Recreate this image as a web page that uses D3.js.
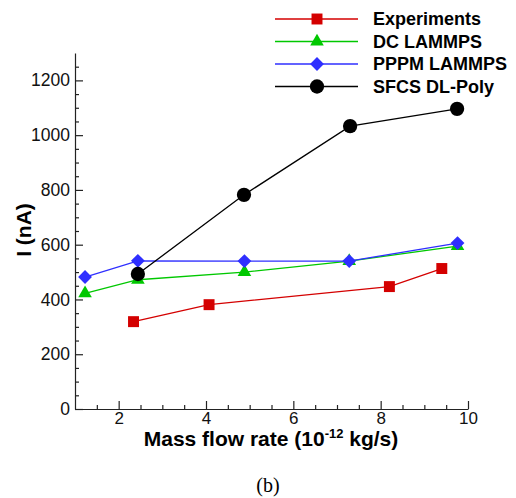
<!DOCTYPE html>
<html>
<head>
<meta charset="utf-8">
<script src="https://cdn.jsdelivr.net/npm/d3@7"></script>
<style>
  body { margin: 0; background: #fff; }
  text { font-family: "Liberation Sans", Arial, sans-serif; }
</style>
</head>
<body>
<svg></svg>
<script>
const size = {w: 516, h: 498};
const margin = {t: 53, r: 48, b: 89, l: 75};

// data
const expX = [2.34, 4.07, 8.2, 9.4];
const expY = [319, 381, 447, 513];
const dcX = [1.23, 2.44, 4.88, 7.28, 9.76];
const dcY = [422, 472, 500, 540, 595];
const ppX = [1.23, 2.44, 4.88, 7.28, 9.76];
const ppY = [482, 541, 540, 540, 606];
const sfX = [2.44, 4.87, 7.3, 9.75];
const sfY = [493, 782, 1033, 1096];

const seriesNames = ['Experiments', 'DC LAMMPS', 'PPPM LAMMPS', 'SFCS DL-Poly'];
const xTicks = [2, 4, 6, 8, 10];
const yTicks = [0, 200, 400, 600, 800, 1000, 1200];

const series = [
    {name: seriesNames[0], xs: expX, ys: expY, color: '#d40000', sym: d3.symbolSquare, area: 120, rot: 0},
    {name: seriesNames[1], xs: dcX, ys: dcY, color: '#00c800', sym: d3.symbolTriangle, area: 80, rot: 0},
    {name: seriesNames[2], xs: ppX, ys: ppY, color: '#2f2fff', sym: d3.symbolSquare, area: 95, rot: 45},
    {name: seriesNames[3], xs: sfX, ys: sfY, color: '#000000', sym: d3.symbolCircle, area: 160, rot: 0}
];

const svg = d3.select('svg')
    .attr('width', size.w)
    .attr('height', size.h);

const x = d3.scaleLinear().domain([1, 10]).range([margin.l, size.w - margin.r]);
const y = d3.scaleLinear().domain([0, 1300]).range([size.h - margin.b, margin.t]);

const axisG = svg.append('g');

// minor ticks
axisG.append('g')
    .attr('transform', `translate(0,${y(0)})`)
    .call(d3.axisBottom(x).tickValues(d3.range(1.5, 10, 0.5).filter(v => v % 2 !== 0))
        .tickSize(-4).tickFormat(''))
    .call(g => g.select('.domain').remove());
axisG.append('g')
    .attr('transform', `translate(${x(1)},0)`)
    .call(d3.axisLeft(y).tickValues(d3.range(50, 1300, 50).filter(v => v % 200 !== 0))
        .tickSize(-4).tickFormat(''))
    .call(g => g.select('.domain').remove());

// major ticks
const xAxis = axisG.append('g')
    .attr('transform', `translate(0,${y(0)})`)
    .call(d3.axisBottom(x).tickValues(xTicks).tickSize(-8).tickSizeOuter(0).tickFormat(d3.format('d')));
const yAxis = axisG.append('g')
    .attr('transform', `translate(${x(1)},0)`)
    .call(d3.axisLeft(y).tickValues(yTicks).tickSize(-8).tickSizeOuter(0).tickPadding(5)
        .tickFormat(d3.format('d')));

axisG.selectAll('line, path').attr('stroke', '#222').attr('stroke-width', 1.2);
xAxis.selectAll('text').attr('font-size', 17).attr('fill', '#111').attr('y', 3).attr('dy', '0.72em');
yAxis.selectAll('text').attr('font-size', 17.5).attr('fill', '#111');

// axis titles
const xt = svg.append('text')
    .attr('x', 271).attr('y', 446)
    .attr('text-anchor', 'middle')
    .attr('font-size', 21).attr('font-weight', 'bold');
xt.append('tspan').text('Mass flow rate (10');
xt.append('tspan').text('-12').attr('font-size', 13).attr('dy', -8);
xt.append('tspan').text(' kg/s)').attr('dy', 8);

svg.append('text')
    .attr('transform', 'translate(31,230) rotate(-90)')
    .attr('text-anchor', 'middle')
    .attr('font-size', 21).attr('font-weight', 'bold')
    .text('I (nA)');

svg.append('text')
    .attr('x', 268).attr('y', 492)
    .attr('text-anchor', 'middle')
    .style('font-family', '"Liberation Serif", serif')
    .attr('font-size', 20)
    .text('(b)');

// series
const line = d3.line().x(d => x(d[0])).y(d => y(d[1]));
series.forEach(s => {
    const pts = s.xs.map((v, i) => [v, s.ys[i]]);
    const g = svg.append('g');
    g.append('path')
        .datum(pts)
        .attr('d', line)
        .attr('fill', 'none')
        .attr('stroke', s.color)
        .attr('stroke-width', 1.3);
    g.selectAll('path.mark')
        .data(pts)
        .enter()
        .append('path')
        .classed('mark', true)
        .attr('transform', d => `translate(${x(d[0])},${y(d[1])}) rotate(${s.rot})`)
        .attr('d', d3.symbol(s.sym, s.area))
        .attr('fill', s.color);
});

// legend
const legend = svg.append('g').attr('transform', 'translate(275,19)');
series.forEach((s, i) => {
    const row = legend.append('g').attr('transform', `translate(0,${i * 22.5})`);
    row.append('line')
        .attr('x1', 0).attr('x2', 83)
        .attr('stroke', s.color).attr('stroke-width', 1.3);
    row.append('path')
        .attr('transform', `translate(42,0) rotate(${s.rot})`)
        .attr('d', d3.symbol(s.sym, s.area))
        .attr('fill', s.color);
    row.append('text')
        .attr('x', 98).attr('dy', '0.36em')
        .attr('font-size', 18).attr('font-weight', 'bold')
        .text(s.name);
});
</script>
</body>
</html>
